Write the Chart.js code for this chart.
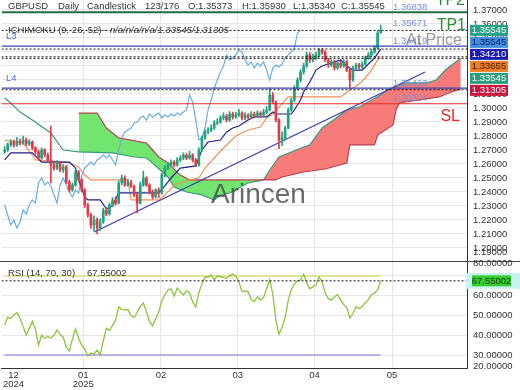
<!DOCTYPE html>
<html>
<head>
<meta charset="utf-8">
<script src="https://cdn.jsdelivr.net/npm/chart.js@4.4.1/dist/chart.umd.min.js"></script>
<style>
html, body { margin: 0; padding: 0; background: #fff; }
#wrap { width: 520px; height: 390px; }
</style>
</head>
<body>
<div id="wrap"><canvas id="priceChart" width="520" height="390"></canvas></div>
<script>
// daily candles, [open, high, low, close], index 0 = first bar on screen
var ohlc = [
  [1.2690,1.2725,1.2675,1.2700],[1.2700,1.2750,1.2690,1.2736],[1.2736,1.2775,1.2725,1.2757],[1.2757,1.2770,1.2720,1.2736],
  [1.2736,1.2790,1.2725,1.2764],[1.2764,1.2780,1.2735,1.2750],[1.2750,1.2800,1.2740,1.2771],[1.2771,1.2785,1.2730,1.2743],
  [1.2743,1.2775,1.2730,1.2757],[1.2757,1.2765,1.2700,1.2714],[1.2714,1.2725,1.2670,1.2686],[1.2686,1.2700,1.2630,1.2643],
  [1.2643,1.2715,1.2635,1.2700],[1.2700,1.2710,1.2650,1.2664],[1.2664,1.2680,1.2615,1.2629],[1.2629,1.2870,1.2465,1.2593],
  [1.2593,1.2610,1.2555,1.2571],[1.2571,1.2625,1.2560,1.2607],[1.2607,1.2615,1.2545,1.2557],[1.2557,1.2595,1.2540,1.2579],
  [1.2579,1.2590,1.2460,1.2471],[1.2471,1.2485,1.2400,1.2414],[1.2414,1.2465,1.2405,1.2450],[1.2450,1.2560,1.2440,1.2543],
  [1.2543,1.2555,1.2475,1.2486],[1.2486,1.2495,1.2400,1.2414],[1.2414,1.2425,1.2290,1.2307],[1.2307,1.2320,1.2220,1.2236],
  [1.2236,1.2250,1.2140,1.2164],[1.2164,1.2230,1.2120,1.2200],[1.2200,1.2215,1.2100,1.2143],[1.2143,1.2210,1.2125,1.2186],
  [1.2186,1.2285,1.2175,1.2271],[1.2271,1.2290,1.2230,1.2243],[1.2243,1.2320,1.2235,1.2307],[1.2307,1.2360,1.2295,1.2343],
  [1.2343,1.2365,1.2305,1.2321],[1.2321,1.2480,1.2315,1.2464],[1.2464,1.2520,1.2450,1.2500],[1.2500,1.2515,1.2440,1.2450],
  [1.2450,1.2490,1.2440,1.2471],[1.2471,1.2485,1.2430,1.2443],[1.2443,1.2450,1.2365,1.2379],[1.2379,1.2390,1.2250,1.2321],
  [1.2321,1.2470,1.2315,1.2450],[1.2450,1.2550,1.2440,1.2500],[1.2500,1.2510,1.2440,1.2450],[1.2450,1.2460,1.2385,1.2400],
  [1.2400,1.2415,1.2350,1.2364],[1.2364,1.2425,1.2355,1.2414],[1.2414,1.2430,1.2360,1.2393],[1.2393,1.2535,1.2385,1.2521],
  [1.2521,1.2590,1.2510,1.2571],[1.2571,1.2610,1.2560,1.2593],[1.2593,1.2630,1.2580,1.2614],[1.2614,1.2625,1.2580,1.2593],
  [1.2593,1.2645,1.2585,1.2629],[1.2629,1.2660,1.2615,1.2643],[1.2643,1.2680,1.2630,1.2664],[1.2664,1.2675,1.2630,1.2643],
  [1.2643,1.2690,1.2635,1.2664],[1.2664,1.2675,1.2615,1.2629],[1.2629,1.2640,1.2580,1.2593],[1.2593,1.2715,1.2585,1.2700],
  [1.2700,1.2800,1.2690,1.2786],[1.2786,1.2845,1.2775,1.2829],[1.2829,1.2860,1.2815,1.2843],[1.2843,1.2880,1.2830,1.2857],
  [1.2857,1.2910,1.2845,1.2893],[1.2893,1.2925,1.2880,1.2900],[1.2900,1.2945,1.2890,1.2929],[1.2929,1.2965,1.2915,1.2943],
  [1.2943,1.2955,1.2900,1.2914],[1.2914,1.2975,1.2905,1.2957],[1.2957,1.2970,1.2920,1.2936],[1.2936,1.2970,1.2925,1.2950],
  [1.2950,1.2990,1.2940,1.2964],[1.2964,1.2975,1.2915,1.2929],[1.2929,1.2965,1.2915,1.2950],[1.2950,1.2960,1.2920,1.2936],
  [1.2936,1.2975,1.2925,1.2957],[1.2957,1.2970,1.2930,1.2943],[1.2943,1.2980,1.2935,1.2964],[1.2964,1.2975,1.2935,1.2950],
  [1.2950,1.2990,1.2940,1.2971],[1.2971,1.3010,1.2960,1.2986],[1.2986,1.3143,1.2980,1.3093],[1.3093,1.3110,1.3030,1.3043],
  [1.3043,1.3050,1.2900,1.2914],[1.2914,1.2925,1.2710,1.2771],[1.2771,1.2830,1.2730,1.2786],[1.2786,1.2870,1.2770,1.2857],
  [1.2857,1.3000,1.2850,1.2986],[1.2986,1.3070,1.2975,1.3057],[1.3057,1.3160,1.3045,1.3143],[1.3143,1.3215,1.3130,1.3200],
  [1.3200,1.3275,1.3185,1.3257],[1.3257,1.3320,1.3240,1.3300],[1.3300,1.3400,1.3290,1.3379],[1.3379,1.3395,1.3325,1.3343],
  [1.3343,1.3385,1.3330,1.3357],[1.3357,1.3400,1.3345,1.3379],[1.3379,1.3425,1.3365,1.3414],[1.3414,1.3425,1.3385,1.3400],
  [1.3400,1.3410,1.3330,1.3343],[1.3343,1.3355,1.3290,1.3307],[1.3307,1.3345,1.3295,1.3329],[1.3329,1.3340,1.3270,1.3286],
  [1.3286,1.3335,1.3275,1.3321],[1.3321,1.3335,1.3285,1.3300],[1.3300,1.3345,1.3290,1.3329],[1.3329,1.3340,1.3260,1.3271],
  [1.3271,1.3280,1.3140,1.3200],[1.3200,1.3300,1.3190,1.3286],[1.3286,1.3320,1.3275,1.3307],[1.3307,1.3320,1.3280,1.3293],
  [1.3293,1.3330,1.3280,1.3314],[1.3314,1.3370,1.3305,1.3357],[1.3357,1.3395,1.3345,1.3379],[1.3379,1.3415,1.3365,1.3400],
  [1.3400,1.3445,1.3390,1.3429],[1.3429,1.3550,1.3420,1.3536],[1.35373,1.35930,1.35340,1.35545]
];

// RSI(14), one value per candle
var rsi = [
  45.2,49.2,48.5,50.3,51.5,48.5,44.5,40,43.5,47,
  43,35,40,38.5,39.5,38.5,40,42.7,40.5,39,
  34,32,38,43.2,38.5,35,33,29.5,31,30.5,
  32.5,30,37,43.5,42.5,45,47.7,54.3,53,52.8,
  53,50,49,51.5,54.5,56.3,52,47,44.7,48.5,
  51.8,57.5,60.5,62.9,63.5,59.9,63.9,62,60.4,62.5,
  61.4,57,54.3,61.4,66,69.5,69.5,70.5,68,70,
  69.7,69.2,68.8,70.2,71,70,67,62,62.5,62,
  58,57,59.5,57.8,59,63.5,68,61,47.5,40.5,
  44,49,57.5,63,66,67.5,68,71,66.5,63.5,
  64.5,65.5,69.5,67,61.5,58.5,57.8,59.5,60.5,58,
  55.5,54,48.7,51,54.5,53.5,54.5,56.5,58,60.5,
  61.4,63,67.55002
];

// ichimoku lines, [bar index, price]
var tenkan = [[0,1.2629],[2,1.2679],[9,1.2679],[12,1.2614],[21,1.2614],[23,1.2571],[24,1.2486],[26,1.2364],[27,1.2343],
  [31,1.2343],[33,1.2280],[35,1.2300],[37,1.2393],[50,1.2393],[52,1.2443],[54,1.2500],[57,1.2571],[62,1.2586],[64,1.2700],
  [66,1.2757],[70,1.2771],[72,1.2829],[74,1.2857],[76,1.2871],[79,1.2914],[81,1.2936],[85,1.2936],[87,1.2971],[88,1.2957],
  [93,1.2957],[94,1.2986],[96,1.3057],[97,1.3114],[99,1.3186],[101,1.3271],[103,1.3300],[107,1.3329],[109,1.3343],
  [111,1.3300],[113,1.3271],[116,1.3271],[118,1.3314],[120,1.3357],[122,1.3421]];
var kijun = [[0,1.2771],[4,1.2757],[6,1.2750],[7,1.2721],[9,1.2664],[10,1.2629],[20,1.2614],[22,1.2600],[24,1.2579],
  [26,1.2521],[28,1.2486],[40,1.2486],[41,1.2343],[50,1.2343],[52,1.2380],[55,1.2450],[60,1.2486],[63,1.2500],[65,1.2571],
  [68,1.2643],[71,1.2714],[75,1.2800],[79,1.2843],[83,1.2864],[85,1.2929],[87,1.2957],[90,1.3029],[92,1.3079],[109,1.3079],
  [112,1.3129],[115,1.3171],[117,1.3214],[119,1.3271],[121,1.3343],[122,1.33655]];
var spanA = [[0,1.3071],[2,1.3036],[5,1.2971],[9,1.2914],[15,1.2821],[19,1.2700],[24,1.2686],[35,1.2679],[42,1.2650],
  [46,1.2643],[48,1.2607],[53,1.2507],[55,1.2436],[59,1.2400],[64,1.2379],[68,1.2343],[70,1.2379],[73,1.2393],[79,1.2464],
  [84,1.2486],[86,1.2557],[89,1.2650],[97,1.2721],[99,1.2736],[103,1.2857],[108,1.2936],[111,1.2986],[115,1.3007],
  [122,1.3093],[124,1.3129],[130,1.3179],[137,1.3179],[140,1.3200],[143,1.3271],[145,1.3307],[148,1.33545]];
var spanB = [[24,1.2964],[30,1.2964],[33,1.2857],[37,1.2786],[46,1.2750],[48,1.2700],[50,1.2650],[53,1.2607],[57,1.2521],
  [60,1.2486],[88,1.2486],[90,1.2507],[97,1.2543],[104,1.2564],[111,1.2607],[112,1.2736],[120,1.2736],[121,1.2807],
  [126,1.2879],[127,1.2986],[128,1.3036],[141,1.3079],[144,1.3107],[147,1.3129],[148,1.31305]];
var chikouShift = 26;
var cloudStart = 24;

var trendLine = [[29.1,1.2114],[136.4,1.3257]];

// horizontal trade levels (TP1 has a tag only, no line)
var levelNames = ['TP2','TP1','L3','L4','SL'];
var levelValues = [1.36838, 1.35671, 1.34419, 1.31423, 1.30304];
var rsiBands = [70, 30];

// axes
var monthTicks = [2.9, 25.5, 50.7, 75.6, 100.5, 125.7];
var monthLabels = [['12','2024'],['01','2025'],['02'],['03'],['04'],['05']];
var priceTicks = [1.37,1.36,1.35,1.34,1.33,1.32,1.31,1.30,1.29,1.28,1.27,1.26,1.25,1.24,1.23,1.22,1.21,1.20,1.19];
var rsiTicks = [80,70,60,50,40,30,20];

var headerWords = ['GBPUSD', 'Daily', 'Candlestick', '123/176', 'O:1.35373', 'H:1.35930', 'L:1.35340', 'C:1.35545'];

var FONT = '"Liberation Sans", Arial, sans-serif';
var upColor = '#22a37e';
var downColor = '#e23a48';

function pts(arr) {
    return arr.map(function(p){ return {x: p[0], y: p[1]}; });
}
function flatLine(v) {
    return [{x: -1, y: v}, {x: 150, y: v}];
}

var last = ohlc.length - 1;
var lastClose = ohlc[last][3];
var lastTenkan = tenkan[tenkan.length - 1][1];
var lastKijun = kijun[kijun.length - 1][1];
var lastSpanA = spanA[spanA.length - 1][1];
var lastSpanB = spanB[spanB.length - 1][1];
var lastRsi = rsi[rsi.length - 1];

var bodies = ohlc.map(function(c, i){ return {x: i, y: [c[0], c[3]]}; });
var wicks = ohlc.map(function(c, i){ return {x: i, y: [c[2], c[1]]}; });
var candleColor = ohlc.map(function(c){ return c[3] >= c[0] ? upColor : downColor; });
var chikou = ohlc.slice(chikouShift).map(function(c, i){ return {x: i, y: c[3]}; });
var rsiPts = rsi.map(function(v, i){ return {x: i, y: v}; });

var levelStyle = {
    TP2: {color: '#1f6e3e', width: 2, dash: []},
    TP1: null,
    L3: {color: '#3b44b5', width: 1.2, dash: []},
    L4: {color: '#3b44b5', width: 1.2, dash: []},
    SL: {color: '#e52a2a', width: 1.2, dash: []}
};

function lineSet(label, data, color, width, order, extra) {
    var ds = {type: 'line', label: label, data: data, borderColor: color, borderWidth: width,
        pointRadius: 0, tension: 0, fill: false, order: order, yAxisID: 'y'};
    for (var k in extra) ds[k] = extra[k];
    return ds;
}

var datasets = [];
datasets.push(lineSet('cloud', pts(spanA.filter(function(p){ return p[0] >= cloudStart; })), 'rgba(0,0,0,0)', 0, 20,
    {fill: {target: '+1', above: '#f77b78', below: '#72e56f'}}));
datasets.push(lineSet('Span B', pts(spanB), '#b8404e', 1.2, 19));
datasets.push(lineSet('Span A', pts(spanA), '#3a9a80', 1.2, 19));
datasets.push(lineSet('Kijun', pts(kijun), '#f0925c', 1.2, 18));
datasets.push(lineSet('Tenkan', pts(tenkan), '#20208e', 1.2, 17));
datasets.push(lineSet('Chikou', chikou, '#6aaee0', 1.2, 17));
datasets.push(lineSet('Trend', pts(trendLine), '#3c3caa', 1.3, 16));
datasets.push({type: 'bar', label: 'wick', data: wicks, backgroundColor: candleColor, barThickness: 1,
    grouped: false, order: 12, yAxisID: 'y'});
datasets.push({type: 'bar', label: 'body', data: bodies, backgroundColor: candleColor, barThickness: 2,
    grouped: false, order: 11, yAxisID: 'y'});
levelNames.forEach(function(name, i){
    var st = levelStyle[name];
    if (!st) return;
    datasets.push(lineSet(name, flatLine(levelValues[i]), st.color, st.width, 5, {borderDash: st.dash}));
});
[lastClose, lastTenkan, lastKijun, lastSpanA, lastSpanB].forEach(function(v){
    datasets.push(lineSet('now', flatLine(v), '#111', 1, 4, {borderDash: [2, 2]}));
});
datasets.push({type: 'line', label: 'rsi70', data: [{x: 0, y: rsiBands[0]}, {x: last, y: rsiBands[0]}],
    borderColor: '#e0df7c', borderWidth: 1.5, pointRadius: 0, yAxisID: 'yr', order: 6});
datasets.push({type: 'line', label: 'rsi30', data: [{x: 0, y: rsiBands[1]}, {x: last, y: rsiBands[1]}],
    borderColor: '#ab98e6', borderWidth: 1.5, pointRadius: 0, yAxisID: 'yr', order: 6});
datasets.push({type: 'line', label: 'RSI', data: rsiPts, borderColor: '#8cc43e', borderWidth: 1.3,
    pointRadius: 0, tension: 0, yAxisID: 'yr', order: 5});
datasets.push({type: 'line', label: 'rsiNow', data: flatLine(lastRsi), borderColor: '#111', borderWidth: 1,
    borderDash: [2, 2], pointRadius: 0, yAxisID: 'yr', order: 4});

var textPlugin = {
    id: 'chartTexts',
    afterDraw: function(chart) {
        var ctx = chart.ctx;
        var ys = chart.scales.y, yr = chart.scales.yr;

        ctx.save();
        ctx.textAlign = 'left';

        // caption row, kept just above the TP2 line
        ctx.textBaseline = 'alphabetic';
        ctx.font = '9.5px ' + FONT;
        ctx.fillStyle = '#333';
        var hx = [8, 58, 87, 145, 188, 242, 293, 341];
        headerWords.forEach(function(word, i){ ctx.fillText(word, hx[i], 9); });
        ctx.fillText('ICHIMOKU (9, 26, 52) - ', 8, 32.5);
        var w = ctx.measureText('ICHIMOKU (9, 26, 52) - ').width;
        ctx.font = 'italic 9.5px ' + FONT;
        ctx.fillText('n/a/n/a/n/a/' + lastSpanA.toFixed(5) + '/' + lastSpanB.toFixed(5), 8 + w, 32.5);

        // panel separator
        var sy = Math.round(yr.top) + 0.5;
        ctx.strokeStyle = '#444';
        ctx.lineWidth = 1;
        ctx.beginPath(); ctx.moveTo(0, sy); ctx.lineTo(520, sy); ctx.stroke();

        // watermark
        ctx.font = '28px ' + FONT;
        ctx.fillStyle = 'rgba(70,70,70,0.8)';
        ctx.fillText('Arincen', 211, 203);
        ctx.textBaseline = 'middle';

        // level tags on the left
        ctx.font = '9.5px ' + FONT;
        ctx.fillStyle = '#4a6ad0';
        ctx.fillText('L3', 6, ys.getPixelForValue(levelValues[2]) - 9.5);
        ctx.fillText('L4', 6, ys.getPixelForValue(levelValues[3]) - 9.5);

        // level prices
        ctx.fillStyle = '#7290e0';
        levelValues.forEach(function(v){
            ctx.fillText(v.toFixed(5), 393, ys.getPixelForValue(v) - 5);
        });

        // big level names
        ctx.font = '16px ' + FONT;
        ctx.textAlign = 'right';
        ctx.fillStyle = '#2e8f3a';
        ctx.fillText('TP2', 465, ys.getPixelForValue(levelValues[0]) - 12);
        ctx.fillText('TP1', 466, ys.getPixelForValue(levelValues[1]) - 3.5);
        ctx.fillStyle = 'rgba(130,130,130,0.8)';
        ctx.fillText('At Price', 462, ys.getPixelForValue(levelValues[2]) - 5.5);
        ctx.fillStyle = '#e52a2a';
        ctx.fillText('SL', 460, ys.getPixelForValue(levelValues[4]) + 12.5);

        // value tags on the price axis
        var tags = [
            {v: lastClose, bg: '#27a387', fg: '#ffffff'},
            {v: lastClose, bg: '#3e8fe0', fg: '#0c1c5c'},
            {v: lastTenkan, bg: '#1c1cb0', fg: '#ffffff'},
            {v: lastKijun, bg: '#f07d22', fg: '#3a1a00'},
            {v: lastSpanA, bg: '#2b9c7c', fg: '#ffffff'},
            {v: lastSpanB, bg: '#c8163f', fg: '#ffffff'}
        ];
        var prev = -100;
        ctx.font = '9.5px ' + FONT;
        ctx.textAlign = 'center';
        tags.forEach(function(t){
            var cy = Math.max(ys.getPixelForValue(t.v), prev + 12);
            prev = cy;
            ctx.fillStyle = t.bg;
            ctx.fillRect(470, cy - 5.5, 38, 11);
            ctx.fillStyle = t.fg;
            ctx.fillText(t.v.toFixed(5), 489, cy + 0.5);
        });

        // RSI caption and tag
        ctx.textAlign = 'left';
        ctx.fillStyle = '#333';
        ctx.fillText('RSI (14, 70, 30)', 8, yr.top + 12);
        ctx.fillText(lastRsi.toFixed(5), 87, yr.top + 12);
        var ry = yr.getPixelForValue(lastRsi);
        ctx.fillStyle = '#c9f3f3';
        ctx.fillRect(466, ry - 8, 54, 16);
        ctx.fillStyle = '#36cc2e';
        ctx.fillRect(472, ry - 5.5, 39, 11);
        ctx.fillStyle = '#123812';
        ctx.textAlign = 'center';
        ctx.fillText(lastRsi.toFixed(5), 491.5, ry + 0.5);

        ctx.restore();
    }
};

function clampTicks(values, scale, lo, hi) {
    return values.map(function(v){
        return {value: Math.min(Math.max(v, scale.min + lo), scale.max - hi)};
    });
}
function noVerticalPadding(scale) {
    scale.paddingTop = 0;
    scale.paddingBottom = 0;
}

var chart = new Chart(document.getElementById('priceChart'), {
    type: 'line',
    data: {datasets: datasets},
    options: {
        responsive: false,
        animation: false,
        devicePixelRatio: 1,
        layout: {padding: 0},
        plugins: {legend: {display: false}, tooltip: {enabled: false}},
        scales: {
            x: {
                type: 'linear', min: -1, max: 150, offset: false,
                grid: {offset: false, drawTicks: false,
                    color: function(c){ return c.index === 0 ? 'rgba(0,0,0,0)' : '#e4e4e4'; }},
                border: {display: true, color: '#333'},
                afterBuildTicks: function(scale){ scale.ticks = monthTicks.map(function(v){ return {value: v}; }); },
                afterFit: function(scale){ scale.height = 22; },
                ticks: {autoSkip: false, maxRotation: 0, padding: 3, color: '#333',
                    font: {family: FONT, size: 9.5, lineHeight: 0.95},
                    callback: function(v, i){ return monthLabels[i]; }}
            },
            y: {
                type: 'linear', position: 'right', stack: 'panes', stackWeight: 261, weight: 1,
                min: 1.19071, max: 1.37714,
                grid: {drawTicks: false,
                    color: function(c){ return priceTicks[c.index] < 1.1907 ? 'rgba(0,0,0,0)' : '#e6e6e6'; }},
                border: {display: true, color: '#333'},
                afterBuildTicks: function(scale){ scale.ticks = clampTicks(priceTicks, scale, 0.0064, 0); },
                afterFit: function(scale){ scale.width = 53; noVerticalPadding(scale); },
                ticks: {autoSkip: false, padding: 6, color: '#333', font: {family: FONT, size: 9.5},
                    callback: function(v, i){ return priceTicks[i].toFixed(5); }}
            },
            yr: {
                type: 'linear', position: 'right', stack: 'panes', stackWeight: 107, weight: 2,
                min: 23.42, max: 77.59,
                grid: {drawTicks: false,
                    color: function(c){ var t = rsiTicks[c.index]; return (t > 77 || t < 24) ? 'rgba(0,0,0,0)' : '#e6e6e6'; }},
                border: {display: true, color: '#333'},
                afterBuildTicks: function(scale){ scale.ticks = clampTicks(rsiTicks, scale, 1.0, 1.4); },
                afterFit: function(scale){ scale.width = 53; noVerticalPadding(scale); },
                ticks: {autoSkip: false, padding: 6, color: '#333', font: {family: FONT, size: 9.5},
                    callback: function(v, i){ return rsiTicks[i].toFixed(5); }}
            }
        }
    },
    plugins: [textPlugin]
});
</script>
</body>
</html>
